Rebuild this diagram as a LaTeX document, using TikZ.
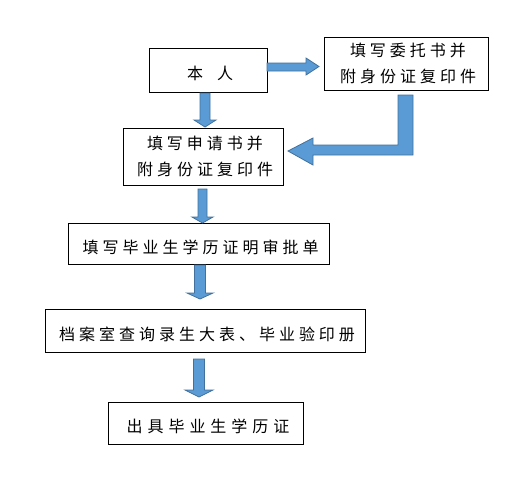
\documentclass[tikz,border=0pt]{standalone}
\usepackage{fontspec}
\setmainfont{Noto Sans CJK SC}[LetterSpace=25]
\begin{document}
\begin{tikzpicture}[x=1pt,y=-1pt,
  txt/.style={inner sep=0pt,align=center,font=\fontsize{16pt}{25.5pt}\selectfont},
  box/.style={draw=black,line width=0.9pt,fill=white,txt},
  lowtext/.style={label={[txt,yshift=-3.5pt]center:#1}},
  blockarrow/.style={fill=arrowblue,draw=arrowedge,line width=0.8pt,line join=miter}]
\definecolor{arrowblue}{HTML}{5B9BD5}
\definecolor{arrowedge}{HTML}{41719C}
\useasboundingbox[fill=white] (0,0) rectangle (530,488);
% boxes
\node[box,minimum width=118pt,minimum height=44pt,lowtext={本\hspace{14pt}人\kern-4pt}] (b1) at (208,70) {};
\node[box,minimum width=164pt,minimum height=53pt] (b2) at (406,63.5) {填写委托书并\kern-4pt\\附身份证复印件\kern-4pt};
\node[box,minimum width=160pt,minimum height=57pt] (b3) at (203,156.5) {填写申请书并\kern-4pt\\附身份证复印件\kern-4pt};
\node[box,minimum width=261pt,minimum height=41pt,lowtext={填写毕业生学历证明审批单\kern-4pt}] (b4) at (198.5,243.5) {};
\node[box,minimum width=320pt,minimum height=43pt,lowtext={档案室查询录生大表、毕业验印册\kern-4pt}] (b5) at (205,330.5) {};
\node[box,minimum width=195pt,minimum height=42pt,lowtext={\addfontfeature{LetterSpace=31}出具毕业生学历证\kern-5pt}] (b6) at (205.5,423) {};
% block arrows
\draw[blockarrow] (267,63) -- (306,63) -- (306,58) -- (319,66.5) -- (306,75) -- (306,71) -- (267,71) -- cycle;
\draw[blockarrow] (413,95) -- (398,95) -- (398,145) -- (313,145) -- (313,138) -- (288,151) -- (313,165) -- (313,155) -- (413,155) -- cycle;
\draw[blockarrow] (200,93) -- (210,93) -- (210,120) -- (216,120) -- (205,127) -- (194,120) -- (200,120) -- cycle;
\draw[blockarrow] (198,189) -- (207,189) -- (207,217) -- (213,217) -- (202.5,223) -- (192,217) -- (198,217) -- cycle;
\draw[blockarrow] (194.5,265) -- (205.5,265) -- (205.5,293) -- (213,293) -- (200,299) -- (187,293) -- (194.5,293) -- cycle;
\draw[blockarrow] (193.5,359) -- (204.5,359) -- (204.5,390) -- (213,390) -- (199,397) -- (185,390) -- (193.5,390) -- cycle;
\end{tikzpicture}
\end{document}
